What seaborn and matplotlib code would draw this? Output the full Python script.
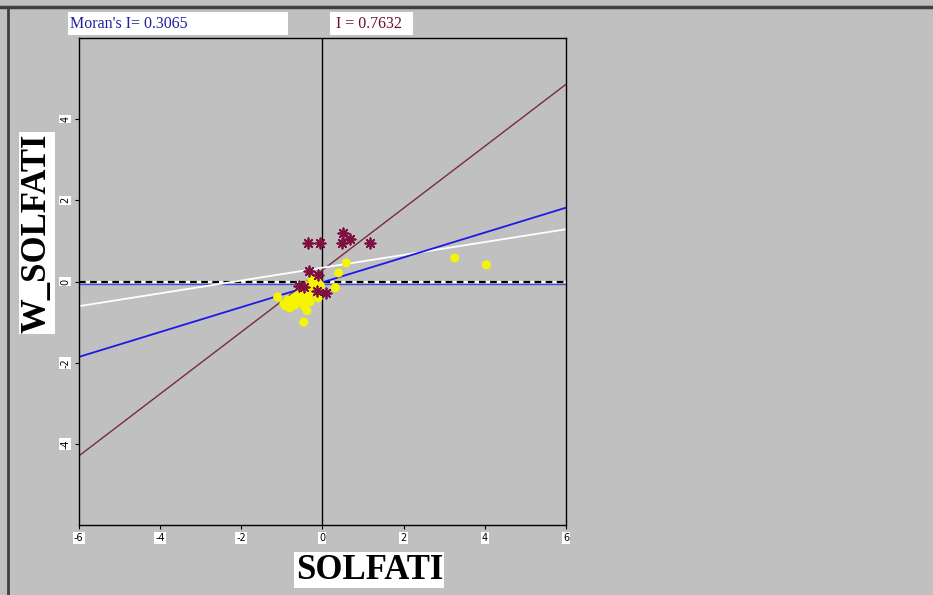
import numpy as np
import pandas as pd
import matplotlib
matplotlib.use("Agg")
import matplotlib.pyplot as plt
from matplotlib.patches import Rectangle
from matplotlib.lines import Line2D
import seaborn as sns

# ---- data ----
yellow_x = [-1.1, -0.95, -0.9, -0.85, -0.8, -0.75, -0.7, -0.68, -0.62, -0.6, -0.55, -0.5,
            -0.5, -0.45, -0.42, -0.4, -0.38, -0.46, -0.35, -0.3, -0.28, -0.25, -0.2, -0.17,
            -0.12, -0.1, -0.05, 0.32, 0.4, 0.59, 3.26, 4.04]
yellow_y = [-0.38, -0.55, -0.6, -0.45, -0.65, -0.5, -0.4, -0.58, -0.35, -0.5, -0.3, -0.45,
            -0.2, -0.6, -0.3, -0.1, -0.72, -1.0, -0.35, -0.5, -0.15, 0.05, -0.25, -0.03,
            0.1, -0.4, -0.1, -0.15, 0.21, 0.46, 0.58, 0.41]
star_x = [-0.36, -0.05, 0.52, 0.48, 0.69, 1.17, -0.32, -0.11, -0.58, -0.46, -0.13, 0.1]
star_y = [0.94, 0.94, 1.2, 0.94, 1.05, 0.94, 0.25, 0.17, -0.11, -0.13, -0.24, -0.28]

line_x = [-6, 6]
blue_slope, blue_icpt = 0.3065, -0.02
maroon_slope, maroon_icpt = 0.7632, 0.28
white_slope, white_icpt = 0.158, 0.34

x_ticks = [-6, -4, -2, 0, 2, 4, 6]
y_ticks = [-4, -2, 0, 2, 4]
x_label = "SOLFATI"
y_label = "W_SOLFATI"
title_left = "Moran's I= 0.3065"
title_right = "I = 0.7632"

BG = "#c0c0c0"
BLUE = "#1a1ae6"
MAROON = "#7d1040"
MAROON_LINE = "#7a2a3c"
YELLOW = "#f5f500"

sns.set_theme(style="white")
plt.rcParams["font.family"] = ["DejaVu Sans"]

fig = plt.figure(figsize=(9.33, 5.95), dpi=100, facecolor=BG)
ax = fig.add_axes([0.0844, 0.1176, 0.5222, 0.8185])
ax.set_facecolor(BG)

xs = np.array(line_x, dtype=float)
# reference lines through origin
ax.axvline(0, color="black", lw=1.0, zorder=1)
ax.axhline(-0.05, color=BLUE, lw=1.0, alpha=0.7, zorder=1)
ax.axhline(0.0, color="white", lw=1.6, zorder=1)
ax.axhline(0.0, color="black", lw=1.6, ls=(0, (3, 2)), zorder=1)

sns.lineplot(x=xs, y=maroon_icpt + maroon_slope * xs, color=MAROON_LINE, lw=1.0, ax=ax, zorder=2)
sns.lineplot(x=xs, y=white_icpt + white_slope * xs, color="white", lw=1.3, ax=ax, zorder=2)
sns.lineplot(x=xs, y=blue_icpt + blue_slope * xs, color=BLUE, lw=1.3, ax=ax, zorder=2)

ydf = pd.DataFrame({"x": yellow_x, "y": yellow_y})
sdf = pd.DataFrame({"x": star_x, "y": star_y})
sns.scatterplot(data=ydf, x="x", y="y", color=YELLOW, s=42, edgecolor="none", ax=ax, zorder=3)
sns.scatterplot(data=sdf, x="x", y="y", color=MAROON, marker=(8, 2, 0), s=55,
                linewidth=1.3, ax=ax, zorder=4)

ax.set_xlim(-6, 6)
ax.set_ylim(-6, 6)
ax.set_xticks(x_ticks)
ax.set_yticks(y_ticks)
ax.set_xticklabels([str(t) for t in x_ticks], fontsize=7)
ax.set_yticklabels([str(t) for t in y_ticks], fontsize=7, rotation=90, va="center")
ax.tick_params(axis="both", direction="out", length=3, width=0.8, color="black",
               bottom=True, left=True, pad=3, labelcolor="black")
for lab in ax.get_xticklabels() + ax.get_yticklabels():
    lab.set_bbox(dict(facecolor="white", edgecolor="none", pad=0.8))
for sp in ax.spines.values():
    sp.set_color("black")
    sp.set_linewidth(1.0)
ax.set_xlabel("")
ax.set_ylabel("")

# axis titles
fig.text(0.396, 0.042, x_label, ha="center", va="center", fontsize=25, fontweight="bold",
         family="Liberation Serif", color="black",
         bbox=dict(facecolor="white", edgecolor="none", pad=1.0))
fig.text(0.040, 0.608, y_label, ha="center", va="center", fontsize=25, fontweight="bold",
         family="Liberation Serif", rotation=90, color="black",
         bbox=dict(facecolor="white", edgecolor="none", pad=1.0))

# title boxes
fig.add_artist(Rectangle((68 / 933, 1 - 35 / 595), 220 / 933, 23 / 595,
                         transform=fig.transFigure, facecolor="white", edgecolor="none"))
fig.add_artist(Rectangle((330 / 933, 1 - 35 / 595), 83 / 933, 23 / 595,
                         transform=fig.transFigure, facecolor="white", edgecolor="none"))
fig.text(70 / 933, 1 - 23.5 / 595, title_left, ha="left", va="center", fontsize=11.5,
         color="#20209a", family="Liberation Serif")
fig.text(336 / 933, 1 - 23.5 / 595, title_right, ha="left", va="center", fontsize=11.5,
         color="#6a1030", family="Liberation Serif")

# window frame lines
fig.add_artist(Line2D([0, 1], [1 - 7 / 595, 1 - 7 / 595], transform=fig.transFigure,
                      color="#404040", lw=2.5))
fig.add_artist(Line2D([8 / 933, 8 / 933], [0, 1 - 7 / 595], transform=fig.transFigure,
                      color="#404040", lw=2.0))

fig.savefig("out.png", dpi=100, facecolor=BG)
